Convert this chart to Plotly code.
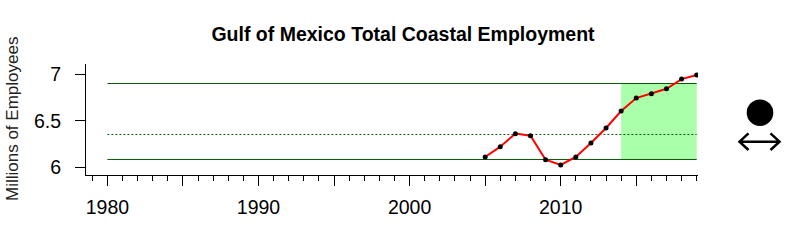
import plotly.graph_objects as go

# ---- data ----
years = [2005, 2006, 2007, 2008, 2009, 2010, 2011, 2012, 2013, 2014,
         2015, 2016, 2017, 2018, 2019]
employment = [6.111, 6.222, 6.362, 6.340, 6.082, 6.025, 6.111, 6.261, 6.423, 6.605,
              6.745, 6.792, 6.845, 6.949, 6.992]
ref_span = [1980, 2019]
ref_upper = 6.901
ref_mean = 6.353
ref_lower = 6.084
shade_span = [2014, 2019]

x_tickvals = [1980, 1985, 1990, 1995, 2000, 2005, 2010, 2015]
x_ticktext = ["1980", "", "1990", "", "2000", "", "2010", ""]
y_tickvals = [6, 6.5, 7]
y_ticktext = ["6", "6.5", "7"]

FONT = "Liberation Sans, Arial, sans-serif"
GREEN = "#0b560b"

fig = go.Figure()

# shaded recent period
fig.add_shape(type="rect", xref="x", yref="y",
              x0=shade_span[0], x1=shade_span[1], y0=ref_lower, y1=ref_upper,
              fillcolor="#aaffaa", line=dict(width=0), layer="below")

# reference lines
for val, dash in [(ref_upper, "solid"), (ref_mean, "2px,2px"), (ref_lower, "solid")]:
    fig.add_trace(go.Scatter(x=ref_span, y=[val, val], mode="lines",
                             line=dict(color=GREEN, width=1, dash=dash),
                             hoverinfo="skip", showlegend=False))

# series
fig.add_trace(go.Scatter(x=years, y=employment, mode="lines",
                         line=dict(color="red", width=2), showlegend=False))
fig.add_trace(go.Scatter(x=years, y=employment, mode="markers",
                         marker=dict(color="black", size=5), showlegend=False))

# trend icons at right
fig.add_shape(type="circle", xref="paper", yref="paper",
              xsizemode="pixel", ysizemode="pixel",
              xanchor=(760 - 86) / 612, yanchor=(175 - 112.7) / 111,
              x0=-13.3, x1=13.3, y0=-13.3, y1=13.3,
              fillcolor="black", line=dict(color="black", width=0))
fig.add_shape(type="path", xref="paper", yref="paper",
              xsizemode="pixel", ysizemode="pixel",
              xanchor=(759.5 - 86) / 612, yanchor=(175 - 141.7) / 111,
              path="M-20,0 L20,0 M-11,8.3 L-20,0 L-11,-8.3 M11,8.3 L20,0 L11,-8.3",
              line=dict(color="black", width=2.5))

fig.add_annotation(text="Millions of Employees", xref="paper", yref="paper",
                   x=(12.5 - 86) / 612, y=0.5, xanchor="center", yanchor="middle",
                   textangle=-90, showarrow=False,
                   font=dict(family=FONT, size=17, color="#222"))

fig.update_layout(
    width=800, height=240,
    margin=dict(l=86, r=102, t=64, b=65),
    paper_bgcolor="white", plot_bgcolor="white",
    title=dict(text="<b>Gulf of Mexico Total Coastal Employment</b>",
               x=403 / 800, xref="container", xanchor="center",
               y=1 - 34 / 240, yref="container", yanchor="middle",
               font=dict(family=FONT, size=19.5, color="black")),
    font=dict(family=FONT, size=19.5, color="black"),
)

fig.update_xaxes(range=[1978.584, 2019.086], showgrid=False, zeroline=False,
                 showline=True, linecolor="black", linewidth=1,
                 tickmode="array", tickvals=x_tickvals, ticktext=x_ticktext,
                 ticks="outside", ticklen=10, tickcolor="black", tickwidth=1,
                 ticklabelstandoff=5,
                 minor=dict(dtick=1, tick0=1979, ticks="outside", ticklen=5,
                            tickcolor="black", tickwidth=1, showgrid=False),
                 tickfont=dict(family=FONT, size=19.5, color="black"))
fig.update_yaxes(range=[5.917, 7.111], showgrid=False, zeroline=False,
                 showline=True, linecolor="black", linewidth=1,
                 tickmode="array", tickvals=y_tickvals, ticktext=y_ticktext,
                 ticks="outside", ticklen=10, tickcolor="black", tickwidth=1,
                 ticklabelstandoff=10,
                 tickfont=dict(family=FONT, size=19.5, color="black"))

fig.write_html("out.html")
